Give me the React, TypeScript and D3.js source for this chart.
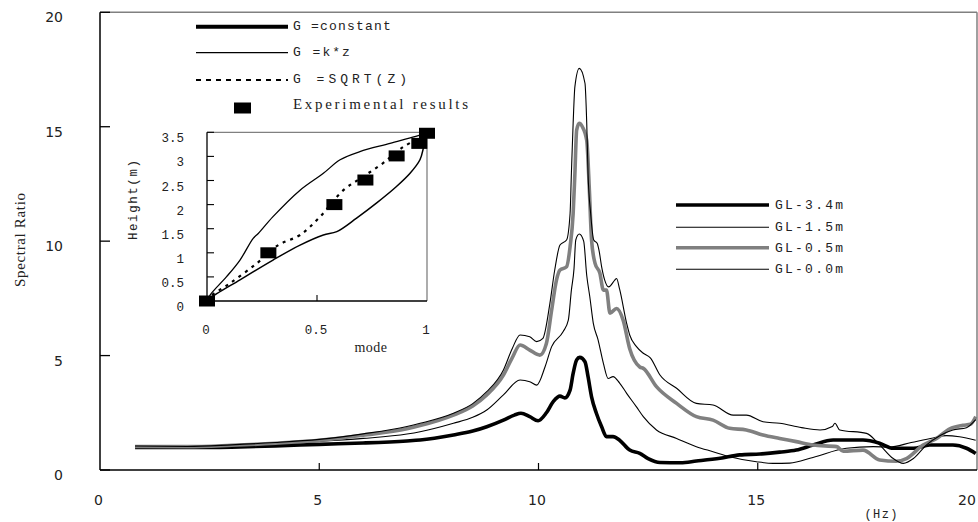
import React from "react";
import * as d3 from "d3";

// Spectral ratio curves: [frequency (Hz), ratio]
const gl34: [number, number][] = [[0.8,0.98],[2,0.98],[3,1.0],[4,1.05],[5,1.12],[6,1.18],[7,1.27],[7.3,1.31],[8.06,1.53],[8.5,1.7],[8.82,1.89],[9.2,2.18],[9.45,2.4],[9.6,2.48],[9.8,2.33],[9.99,2.15],[10.18,2.5],[10.34,3.0],[10.49,3.23],[10.6,3.15],[10.72,3.49],[10.79,4.22],[10.87,4.81],[10.94,4.92],[11.06,4.73],[11.13,4.08],[11.21,3.2],[11.32,2.48],[11.44,1.89],[11.55,1.46],[11.7,1.46],[11.85,1.3],[12.08,0.87],[12.31,0.73],[12.5,0.5],[12.77,0.33],[13.24,0.32],[13.6,0.39],[14.14,0.51],[14.59,0.66],[15.05,0.7],[15.5,0.78],[15.88,0.87],[16.26,1.09],[16.72,1.31],[17.4,1.31],[17.78,1.17],[18.09,0.95],[18.55,0.95],[18.92,1.09],[19.45,1.09],[19.76,0.95],[19.97,0.72]];

const gl15: [number, number][] = [[0.8,1.0],[2,1.0],[3,1.05],[4,1.12],[5,1.25],[6,1.38],[7,1.57],[7.3,1.67],[8.06,2.04],[8.5,2.3],[8.82,2.62],[9.2,3.28],[9.58,3.93],[9.8,3.86],[9.96,3.71],[10.15,4.51],[10.3,5.39],[10.56,6.04],[10.68,6.55],[10.75,7.86],[10.81,8.8],[10.85,10.05],[10.93,10.31],[11.03,10.0],[11.1,8.5],[11.17,7.57],[11.25,6.41],[11.36,5.68],[11.48,4.66],[11.59,4.0],[11.7,4.08],[11.85,3.8],[12.01,3.35],[12.23,2.77],[12.39,2.33],[12.69,1.75],[13.15,1.38],[13.6,1.02],[13.98,0.8],[14.36,0.58],[14.97,0.36],[15.35,0.29],[15.73,0.3],[16.26,0.55],[17.02,0.95],[17.63,1.02],[18.0,1.0],[18.5,1.2],[19.0,1.4],[19.3,1.5],[19.6,1.45],[19.97,1.3]];

const gl05: [number, number][] = [[0.8,1.03],[2,1.02],[3,1.08],[4,1.17],[5,1.3],[6,1.52],[7,1.8],[7.3,1.94],[8.06,2.4],[8.5,2.8],[8.82,3.28],[9.2,4.15],[9.4,4.9],[9.58,5.46],[9.8,5.24],[10.03,5.02],[10.18,5.53],[10.3,6.99],[10.41,8.3],[10.49,8.74],[10.64,8.88],[10.72,9.75],[10.79,11.2],[10.83,12.96],[10.87,14.85],[10.93,15.15],[11.0,15.0],[11.1,14.4],[11.16,12.23],[11.21,10.05],[11.29,9.03],[11.4,8.6],[11.48,7.86],[11.55,7.86],[11.63,6.85],[11.78,7.06],[11.93,6.55],[12.08,5.3],[12.31,4.5],[12.39,4.44],[12.69,3.64],[13.15,2.91],[13.6,2.33],[13.98,2.18],[14.36,1.82],[14.74,1.75],[15.12,1.53],[15.5,1.38],[15.88,1.24],[16.26,1.09],[16.8,1.02],[16.95,0.82],[17.4,0.87],[17.78,0.44],[18.16,0.38],[18.39,0.5],[18.77,1.09],[19.08,1.38],[19.38,1.8],[19.68,1.95],[19.85,2.0],[19.97,2.33]];

const gl00: [number, number][] = [[0.8,1.05],[2,1.03],[3,1.1],[4,1.2],[5,1.34],[6,1.58],[7,1.9],[7.3,2.04],[8.06,2.48],[8.5,2.9],[8.82,3.42],[9.2,4.37],[9.4,5.3],[9.58,5.9],[9.8,5.82],[9.96,5.61],[10.1,5.75],[10.26,7.28],[10.37,8.74],[10.49,9.83],[10.64,10.05],[10.72,11.2],[10.75,12.96],[10.79,15.15],[10.83,16.75],[10.93,17.55],[11.06,16.9],[11.1,15.15],[11.13,12.96],[11.19,11.2],[11.26,10.05],[11.34,9.9],[11.38,9.6],[11.44,8.88],[11.51,8.3],[11.6,8.0],[11.74,8.3],[11.78,8.37],[11.85,7.9],[12.01,6.41],[12.08,5.9],[12.23,5.4],[12.39,5.1],[12.55,4.9],[12.77,4.15],[13.15,3.57],[13.6,2.91],[13.98,2.84],[14.44,2.4],[14.74,2.4],[15.12,2.11],[15.5,2.04],[16.0,1.85],[16.42,1.75],[16.7,1.9],[16.76,2.04],[16.87,1.75],[17.48,1.6],[17.78,1.1],[18.09,0.5],[18.32,0.29],[18.55,0.5],[18.85,1.1],[19.15,1.5],[19.45,1.75],[19.76,1.85],[19.97,2.2]];

const seriesLabels = ["GL-3.4m", "GL-1.5m", "GL-0.5m", "GL-0.0m"];
const xTicks = [0, 5, 10, 15, 20];
const yTicks = [0, 5, 10, 15, 20];

// Inset: mode shapes [mode, height (m)]
const modeConst: [number, number][] = [[0,0],[0.014,0.06],[0.15,0.44],[0.3,0.85],[0.423,1.16],[0.529,1.37],[0.59,1.44],[0.68,1.72],[0.77,2.03],[0.86,2.37],[0.923,2.65],[0.968,2.93],[0.985,3.2],[1.0,3.48]];
const modeKz: [number, number][] = [[0,0],[0.014,0.124],[0.089,0.505],[0.15,0.85],[0.21,1.3],[0.233,1.4],[0.3,1.75],[0.423,2.3],[0.529,2.65],[0.605,2.93],[0.695,3.1],[0.832,3.27],[0.983,3.46],[1.0,3.49]];
const modeSqrt: [number, number][] = [[0,0],[0.014,0.09],[0.105,0.37],[0.226,0.78],[0.324,1.16],[0.423,1.37],[0.514,1.75],[0.62,2.3],[0.71,2.58],[0.8,2.86],[0.893,3.2],[0.983,3.41]];
const expMode = [0, 0.279, 0.579, 0.72, 0.862, 0.965, 1.0];
const expHeight = [0, 1.0, 2.0, 2.51, 3.01, 3.27, 3.48];
const insetYTicks = [0, 0.5, 1, 1.5, 2, 2.5, 3, 3.5];
const insetXTicks = [0, 0.5, 1];
const modelLabels = ["G =constant", "G =k*z", "G =SQRT(Z)", "Experimental results"];

const W = 978;
const H = 522;

export default function App() {
  const x = d3.scaleLinear().domain([0, 20]).range([100, 977]);
  const y = d3.scaleLinear().domain([0, 20]).range([470, 12.3]);
  const line = d3
    .line<[number, number]>()
    .x((d) => x(d[0]))
    .y((d) => y(d[1]))
    .curve(d3.curveMonotoneX);

  const ix = d3.scaleLinear().domain([0, 1]).range([207, 427]);
  const iy = d3.scaleLinear().domain([0, 3.5]).range([301, 132.3]);
  const iline = d3
    .line<[number, number]>()
    .x((d) => ix(d[0]))
    .y((d) => iy(d[1]))
    .curve(d3.curveCatmullRom);

  const series = [
    { data: gl34, color: "#000", width: 3.6 },
    { data: gl15, color: "#000", width: 1.1 },
    { data: gl05, color: "#808080", width: 3.6 },
    { data: gl00, color: "#000", width: 1.1 },
  ];

  const mono = "'Liberation Mono', 'DejaVu Sans Mono', monospace";
  const serif = "'Liberation Serif', 'DejaVu Serif', serif";
  const sans = "'DejaVu Sans', sans-serif";
  const txt = "#222";

  const rightLegendY = [205, 227.3, 247.7, 269.3];
  const rightLegendLen = [68, 68, 68, 68];
  const leftLegendY = [26.7, 52.7, 80, 108];
  const leftLegendSpacing = [1.2, 2, 4, 0];

  return (
    <svg
      width={W}
      height={H}
      style={{ position: "absolute", left: 0, top: 0, background: "#fff" }}
    >
      <rect x={0} y={0} width={W} height={H} fill="#fff" />

      {/* plot frame */}
      <line x1={x(0)} x2={x(20)} y1={y(20)} y2={y(20)} stroke="#808080" strokeWidth={1.5} />
      <line x1={x(20)} x2={x(20)} y1={y(20)} y2={y(0)} stroke="#808080" strokeWidth={1.5} />

      {/* curves */}
      {series.map((s, i) => (
        <path
          key={i}
          d={line(s.data) || ""}
          fill="none"
          stroke={s.color}
          strokeWidth={s.width}
          strokeLinejoin="round"
        />
      ))}

      {/* axes */}
      <line x1={x(0)} x2={x(0)} y1={y(20)} y2={y(0)} stroke="#000" strokeWidth={1.5} />
      <line x1={x(0)} x2={x(20)} y1={y(0)} y2={y(0)} stroke="#000" strokeWidth={1.5} />
      {yTicks.map((t) => (
        <g key={"y" + t}>
          <line x1={x(0)} x2={x(0) + 10} y1={y(t)} y2={y(t)} stroke="#000" strokeWidth={1.3} />
          <text x={63} y={y(t) + 10} textAnchor="end" fontFamily={sans} fontSize={14} fill={txt}>
            {t}
          </text>
        </g>
      ))}
      {xTicks.map((t) => (
        <g key={"x" + t}>
          {t > 0 && t < 20 && (
            <line x1={x(t)} x2={x(t)} y1={y(0)} y2={y(0) - 7} stroke="#000" strokeWidth={1.2} />
          )}
          <text
            x={Math.min(x(t) - 1.5, 967)}
            y={505}
            textAnchor="middle"
            fontFamily={sans}
            fontSize={14}
            fill={txt}
          >
            {t}
          </text>
        </g>
      ))}
      <text x={881} y={518} textAnchor="middle" fontFamily={mono} fontSize={12} fill={txt} textLength={33} lengthAdjust="spacing">
        (Hz)
      </text>
      <text
        transform="translate(25,240) rotate(-90)"
        textAnchor="middle"
        fontFamily={serif}
        fontSize={15}
        fill={txt}
        textLength={94}
        lengthAdjust="spacing"
      >
        Spectral Ratio
      </text>

      {/* series legend */}
      {series.map((s, i) => (
        <g key={"lg" + i}>
          <line x1={676} x2={769} y1={rightLegendY[i]} y2={rightLegendY[i]} stroke={s.color} strokeWidth={s.width} />
          <text
            x={775}
            y={rightLegendY[i] + 3.8}
            fontFamily={mono}
            fontSize={13}
            fill={txt}
            textLength={rightLegendLen[i]}
            lengthAdjust="spacing"
          >
            {seriesLabels[i]}
          </text>
        </g>
      ))}

      {/* inset: mode shapes */}
      <rect x={ix(0)} y={iy(3.5)} width={ix(1) - ix(0)} height={iy(0) - iy(3.5)} fill="#fff" />
      <line x1={ix(0)} x2={ix(1)} y1={iy(3.5)} y2={iy(3.5)} stroke="#808080" strokeWidth={1.3} />
      <line x1={ix(1)} x2={ix(1)} y1={iy(3.5)} y2={iy(0)} stroke="#808080" strokeWidth={1.3} />
      <line x1={ix(0)} x2={ix(0)} y1={iy(3.5)} y2={iy(0)} stroke="#000" strokeWidth={1.3} />
      <line x1={ix(0)} x2={ix(1)} y1={iy(0)} y2={iy(0)} stroke="#000" strokeWidth={1.3} />
      {insetYTicks.map((t) => (
        <g key={"iy" + t}>
          {t > 0 && (
            <line x1={ix(0)} x2={ix(0) + 7} y1={iy(t)} y2={iy(t)} stroke="#000" strokeWidth={1.1} />
          )}
          <text x={184} y={iy(t) + 10} textAnchor="end" fontFamily={mono} fontSize={12.5} fill={txt}>
            {String(t)}
          </text>
        </g>
      ))}
      {insetXTicks.map((t) => (
        <g key={"ix" + t}>
          {t > 0 && t < 1 && (
            <line x1={ix(t)} x2={ix(t)} y1={iy(0)} y2={iy(0) - 6} stroke="#000" strokeWidth={1.1} />
          )}
          <text x={ix(t) - 1} y={334} textAnchor="middle" fontFamily={mono} fontSize={12.5} fill={txt}>
            {String(t)}
          </text>
        </g>
      ))}
      <text x={371} y={352} textAnchor="middle" fontFamily={serif} fontSize={14} fill={txt} letterSpacing={0.5}>
        mode
      </text>
      <text
        transform="translate(137,200) rotate(-90)"
        textAnchor="middle"
        fontFamily={mono}
        fontSize={12.5}
        fill={txt}
        textLength={80}
        lengthAdjust="spacing"
      >
        Height(m)
      </text>

      <path d={iline(modeKz) || ""} fill="none" stroke="#000" strokeWidth={1.3} />
      <path d={iline(modeConst) || ""} fill="none" stroke="#000" strokeWidth={1.5} />
      <path d={iline(modeSqrt) || ""} fill="none" stroke="#000" strokeWidth={2.2} strokeDasharray="3,5" />
      {expMode.map((m, i) => (
        <rect key={"e" + i} x={ix(m) - 8} y={iy(expHeight[i]) - 5.5} width={16} height={11} fill="#000" />
      ))}

      {/* model legend */}
      <line x1={196} x2={288} y1={leftLegendY[0]} y2={leftLegendY[0]} stroke="#000" strokeWidth={4} />
      <line x1={196} x2={288} y1={leftLegendY[1]} y2={leftLegendY[1]} stroke="#000" strokeWidth={1.3} />
      <line x1={196} x2={288} y1={leftLegendY[2]} y2={leftLegendY[2]} stroke="#000" strokeWidth={2} strokeDasharray="5,5" />
      <rect x={234} y={leftLegendY[3] - 5.5} width={17} height={11} fill="#000" />
      {modelLabels.map((lab, i) => (
        <text
          key={"ml" + i}
          x={293}
          y={leftLegendY[i] + (i === 3 ? 1 : 2.8)}
          fontFamily={i === 3 ? serif : mono}
          fontSize={i === 3 ? 15 : 13}
          fill={txt}
          letterSpacing={leftLegendSpacing[i]}
          textLength={i === 3 ? 175 : undefined}
          lengthAdjust="spacing"
        >
          {lab}
        </text>
      ))}
    </svg>
  );
}
